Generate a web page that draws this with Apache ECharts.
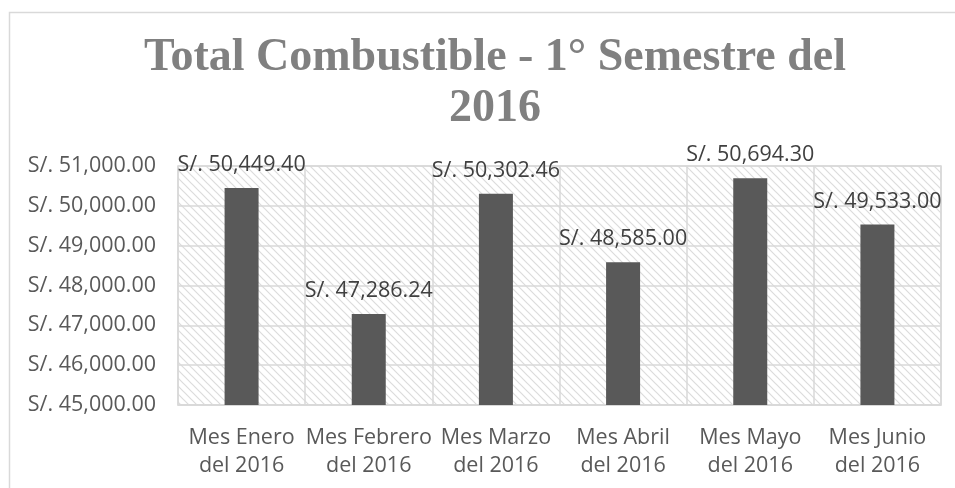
<!DOCTYPE html>
<html>
<head>
<meta charset="utf-8">
<script src="https://cdn.jsdelivr.net/npm/echarts@6/dist/echarts.min.js"></script>
<style>
html,body{margin:0;padding:0;background:#fff;}
#chart{width:955px;height:488px;}
</style>
</head>
<body>
<div id="chart"></div>
<script>
var meses = ['Mes Enero\ndel 2016', 'Mes Febrero\ndel 2016', 'Mes Marzo\ndel 2016', 'Mes Abril\ndel 2016', 'Mes Mayo\ndel 2016', 'Mes Junio\ndel 2016'];
var totales = [50449.40, 47286.24, 50302.46, 48585.00, 50694.30, 49533.00];
var yMin = 45000, yMax = 51000, yPaso = 1000;

function soles(v){
	// formato S/. 50,449.40
	var s = v.toFixed(2).split('.');
	s[0] = s[0].replace(/\B(?=(\d{3})+(?!\d))/g, ',');
	return 'S/. ' + s[0] + '.' + s[1];
}

// trama diagonal del fondo del grafico
var tile = document.createElement('canvas');
tile.width = 8; tile.height = 8;
var ctx = tile.getContext('2d');
ctx.strokeStyle = '#dcdcdc';
ctx.lineWidth = 1.2;
ctx.beginPath();
ctx.moveTo(-1, -1); ctx.lineTo(9, 9);
ctx.moveTo(-1, 7); ctx.lineTo(1, 9);
ctx.moveTo(7, -1); ctx.lineTo(9, 1);
ctx.stroke();

var chart = echarts.init(document.getElementById('chart'));
var option = {
	animation: false,
	title: {
		text: 'Total Combustible - 1° Semestre del\n2016',
		left: 490,
		textAlign: 'center',
		top: 28,
		textStyle: {
			fontFamily: 'Liberation Serif',
			fontWeight: 'bold',
			fontSize: 46,
			lineHeight: 51,
			color: '#808080'
		}
	},
	graphic: [{
		type: 'rect',
		shape: {x: 9.5, y: 12.5, width: 960, height: 500},
		style: {fill: 'none', stroke: '#d9d9d9', lineWidth: 1.5},
		silent: true
	}],
	grid: {
		left: 178,
		right: 14,
		top: 166,
		bottom: 83,
		show: true,
		backgroundColor: {image: tile, repeat: 'repeat'},
		borderColor: '#d9d9d9',
		borderWidth: 1.5
	},
	xAxis: {
		type: 'category',
		data: meses,
		axisLine: {lineStyle: {color: '#d9d9d9', width: 1.5}},
		axisTick: {show: false},
		splitLine: {show: true, lineStyle: {color: '#d9d9d9', width: 1.5}},
		axisLabel: {
			margin: 19,
			fontFamily: 'Open Sans',
			fontSize: 21.5,
			lineHeight: 28,
			color: '#595959',
			interval: 0
		}
	},
	yAxis: {
		type: 'value',
		min: yMin,
		max: yMax,
		interval: yPaso,
		axisLine: {show: false},
		axisTick: {show: false},
		splitLine: {lineStyle: {color: '#d9d9d9', width: 1.5}},
		axisLabel: {
			margin: 22,
			fontFamily: 'Open Sans',
			fontSize: 21.5,
			color: '#595959',
			formatter: function(v){ return soles(v); }
		}
	},
	series: [{
		name: 'Total',
		type: 'bar',
		data: totales,
		barWidth: 34,
		itemStyle: {color: '#595959'},
		label: {
			show: true,
			position: 'top',
			distance: 12,
			fontFamily: 'Open Sans',
			fontSize: 21.5,
			color: '#404040',
			formatter: function(p){ return soles(p.value); }
		}
	}]
};
chart.setOption(option);
</script>
</body>
</html>
